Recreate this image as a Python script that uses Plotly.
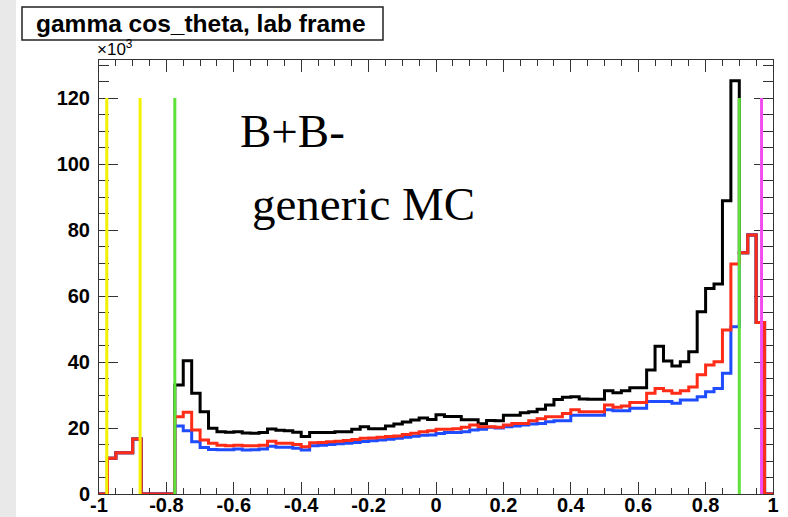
import plotly.graph_objects as go
import numpy as np

# ---- data (bin contents in units of 10^3), 80 bins of width 0.025 from -1 to 1 ----
n_bins = 80
bin_edges = np.linspace(-1.0, 1.0, n_bins + 1)

# backward endcap region (-1 .. -0.775), identical for all samples
endcap_bwd = [0.0, 10.8, 12.5, 12.5, 16.7, 0.0, 0.0, 0.0, 0.0]
# forward endcap region (0.9 .. 1.0), identical for all samples
endcap_fwd = [73.1, 78.5, 52.0, 0.0]

# barrel region (-0.775 .. 0.9), 67 bins
black_barrel = [33.0, 40.4, 30.5, 24.9, 19.9, 18.9, 18.7, 18.9, 18.5, 18.4,
                18.6, 19.7, 19.3, 19.2, 18.7, 17.4, 18.6, 18.6, 18.6, 18.9,
                18.9, 19.6, 20.4, 19.8, 19.8, 20.6, 21.2, 21.8, 22.4, 23.0,
                22.6, 24.0, 23.5, 23.5, 22.5, 22.5, 21.3, 22.3, 22.2, 23.9,
                23.9, 24.6, 24.9, 25.7, 27.0, 28.6, 29.3, 29.5, 28.8, 28.7,
                28.7, 31.3, 30.7, 31.3, 32.2, 32.2, 37.6, 44.8, 40.3, 38.8,
                40.1, 43.1, 55.2, 62.3, 63.6, 88.9, 125.2]
red_barrel = [23.4, 24.8, 19.4, 16.4, 15.4, 14.8, 14.6, 14.8, 14.6, 14.6,
              14.8, 16.0, 15.4, 15.4, 15.0, 14.3, 15.5, 15.6, 15.8, 16.0,
              16.2, 16.5, 16.9, 17.0, 17.2, 17.4, 17.6, 18.0, 18.4, 18.9,
              19.2, 19.6, 19.6, 19.8, 20.2, 20.9, 20.4, 20.4, 20.2, 20.9,
              21.4, 21.4, 22.2, 22.8, 23.4, 23.4, 24.4, 25.5, 24.9, 24.9,
              24.9, 27.0, 26.3, 26.7, 27.7, 27.7, 30.5, 32.0, 31.3, 30.5,
              31.3, 32.4, 36.1, 39.1, 40.1, 49.7, 69.7]
blue_barrel = [20.6, 19.2, 15.8, 14.1, 13.5, 13.4, 13.4, 13.6, 13.3, 13.4,
               13.6, 14.5, 14.2, 14.2, 13.9, 13.3, 14.6, 14.8, 15.0, 15.2,
               15.4, 15.6, 15.9, 16.1, 16.4, 16.6, 16.9, 17.2, 17.5, 17.8,
               17.9, 18.3, 18.6, 18.6, 18.9, 19.4, 19.6, 20.2, 20.0, 20.4,
               20.6, 20.9, 21.2, 21.4, 21.9, 22.2, 22.2, 23.9, 23.9, 23.9,
               23.9, 25.5, 25.2, 25.2, 26.0, 26.0, 28.0, 28.0, 28.0, 27.5,
               28.5, 28.5, 29.5, 31.0, 32.0, 36.6, 50.7]

# cut lines (cos theta positions)
yellow_cuts = [-0.977, -0.878]
green_cuts = [-0.775, 0.900]
magenta_cuts = [0.966]
cut_height = 120.0

x_ticks = [-1, -0.8, -0.6, -0.4, -0.2, 0, 0.2, 0.4, 0.6, 0.8, 1]
x_tick_text = ["-1", "-0.8", "-0.6", "-0.4", "-0.2", "0", "0.2", "0.4", "0.6", "0.8", "1"]
y_ticks = [0, 20, 40, 60, 80, 100, 120]
y_tick_text = ["0", "20", "40", "60", "80", "100", "120"]

title_text = "gamma cos_theta, lab frame"

# ---- figure ----
W, H = 788, 517
L, R, T, B = 99, 15, 60, 23
pw, ph = W - L - R, H - T - B


def px2paper(px, py):
    return (px - L) / pw, (H - B - py) / ph


def full(barrel):
    return endcap_bwd + barrel + endcap_fwd


fig = go.Figure()
series = [
    (full(black_barrel), "#000000"),
    (full(blue_barrel), "#1f4cff"),
    (full(red_barrel), "#ff2d17"),
]
for vals, col in series:
    yv = list(vals) + [vals[-1]]
    fig.add_trace(go.Scatter(x=bin_edges, y=yv, mode="lines",
                             line=dict(color=col, width=3, shape="hv"),
                             hoverinfo="skip", showlegend=False))

for xs, col in [(yellow_cuts, "#f2f200"), (green_cuts, "#5fe03a"), (magenta_cuts, "#f04cf0")]:
    for xv in xs:
        fig.add_shape(type="line", x0=xv, x1=xv, y0=0, y1=cut_height,
                      xref="x", yref="y", line=dict(color=col, width=3), layer="above")

# light grey strip at the left edge of the picture
sx0, sy0 = px2paper(0, H)
sx1, sy1 = px2paper(16, 0)
fig.add_shape(type="rect", xref="paper", yref="paper", x0=sx0, x1=sx1, y0=sy0, y1=sy1,
              line=dict(width=0), fillcolor="#e9e9e9", layer="below")

# title box
x0p, y0p = px2paper(22, 40)
x1p, y1p = px2paper(383, 7)
fig.add_shape(type="rect", xref="paper", yref="paper", x0=x0p, x1=x1p, y0=y0p, y1=y1p,
              line=dict(color="#222222", width=1.5), fillcolor="white", layer="above")
cx, cy = px2paper(201, 24)
fig.add_annotation(xref="paper", yref="paper", x=cx, y=cy, text=title_text, showarrow=False,
                   xanchor="center", yanchor="middle",
                   font=dict(family="Liberation Sans", size=24.5, color="black", weight="bold"))

# x10^3 label
ex, ey = px2paper(95, 48)
fig.add_annotation(xref="paper", yref="paper", x=ex, y=ey, text="×10<sup>3</sup>", showarrow=False,
                   xanchor="left", yanchor="middle",
                   font=dict(family="Liberation Sans", size=17, color="black"))

# in-plot text
bx, by = px2paper(238, 131)
fig.add_annotation(xref="paper", yref="paper", x=bx, y=by, text="B+B-", showarrow=False,
                   xanchor="left", yanchor="middle",
                   font=dict(family="Liberation Serif", size=47, color="black"))
gx, gy = px2paper(250, 204)
fig.add_annotation(xref="paper", yref="paper", x=gx, y=gy, text="generic MC", showarrow=False,
                   xanchor="left", yanchor="middle",
                   font=dict(family="Liberation Serif", size=47, color="black"))

axis_common = dict(showline=True, linecolor="#333333", linewidth=1, mirror="allticks",
                   ticks="inside", tickcolor="#333333", showgrid=False, zeroline=False,
                   automargin=False, layer="below traces",
                   tickfont=dict(family="Liberation Sans", size=20, color="black", weight="bold"))

fig.update_xaxes(range=[-1, 1], tickmode="array", tickvals=x_ticks, ticktext=x_tick_text,
                 ticklen=12, ticklabelstandoff=-7,
                 minor=dict(ticks="inside", ticklen=6, tickmode="linear", tick0=-1, dtick=0.05,
                            tickcolor="#333333", showgrid=False),
                 **axis_common)
fig.update_yaxes(range=[0, (H - B - T) / 3.3], tickmode="array", tickvals=y_ticks,
                 ticktext=y_tick_text, ticklen=19, ticklabelstandoff=4,
                 minor=dict(ticks="inside", ticklen=10, tickmode="linear", tick0=0, dtick=5,
                            tickcolor="#333333", showgrid=False),
                 **axis_common)

fig.update_layout(width=W, height=H, margin=dict(l=L, r=R, t=T, b=B, autoexpand=False),
                  paper_bgcolor="white", plot_bgcolor="white", showlegend=False)

fig.write_html("out.html")
